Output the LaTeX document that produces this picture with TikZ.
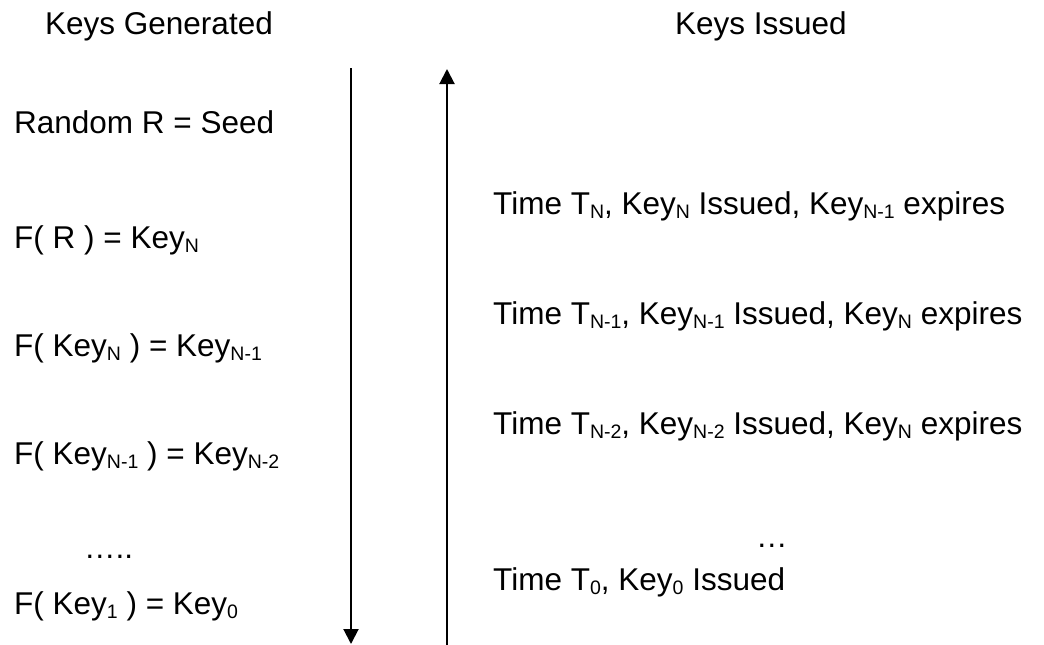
\documentclass[tikz,border=0pt]{standalone}
\usepackage{fontspec}
\setmainfont{Liberation Sans}
\usetikzlibrary{arrows.meta}
\newcommand{\lowsub}[1]{\raisebox{-4pt}{\fontsize{19.5}{19.5}\selectfont #1}}
\begin{document}
\begin{tikzpicture}[x=1pt,y=-1pt,
  lbl/.style={anchor=base west,inner sep=0pt,font=\fontsize{31.5}{36}\selectfont},
  flow/.style={line width=2pt,-{Triangle[length=15pt,width=15pt]}}]
\useasboundingbox (0,0) rectangle (1044,645);
\node[lbl] (hgen) at (45,34) {Keys Generated};
\node[lbl] (hiss) at (675,34) {Keys Issued};
\node[lbl] (l1) at (14,133) {Random R = Seed};
\node[lbl] (l2) at (14,248) {F( R ) = Key\lowsub{N}};
\node[lbl] (l3) at (14,356) {F( Key\lowsub{N} ) = Key\lowsub{N-1}};
\node[lbl] (l4) at (14,464) {F( Key\lowsub{N-1} ) = Key\lowsub{N-2}};
\node[lbl] (l5) at (84,558) {…..};
\node[lbl] (l6) at (14,614) {F( Key\lowsub{1} ) = Key\lowsub{0}};
\node[lbl] (r1) at (493,214) {Time T\lowsub{N}, Key\lowsub{N} Issued, Key\lowsub{N-1} expires};
\node[lbl] (r2) at (493,324) {Time T\lowsub{N-1}, Key\lowsub{N-1} Issued, Key\lowsub{N} expires};
\node[lbl] (r3) at (493,434) {Time T\lowsub{N-2}, Key\lowsub{N-2} Issued, Key\lowsub{N} expires};
\node[lbl] (r4) at (756,547) {…};
\node[lbl] (r5) at (493,590) {Time T\lowsub{0}, Key\lowsub{0} Issued};
\coordinate (dtop) at (351,68);
\coordinate (dbot) at (351,644);
\coordinate (ubot) at (447,645);
\coordinate (utop) at (447,69);
\draw[flow] (dtop) -- (dbot);
\draw[flow] (ubot) -- (utop);
\end{tikzpicture}
\end{document}
